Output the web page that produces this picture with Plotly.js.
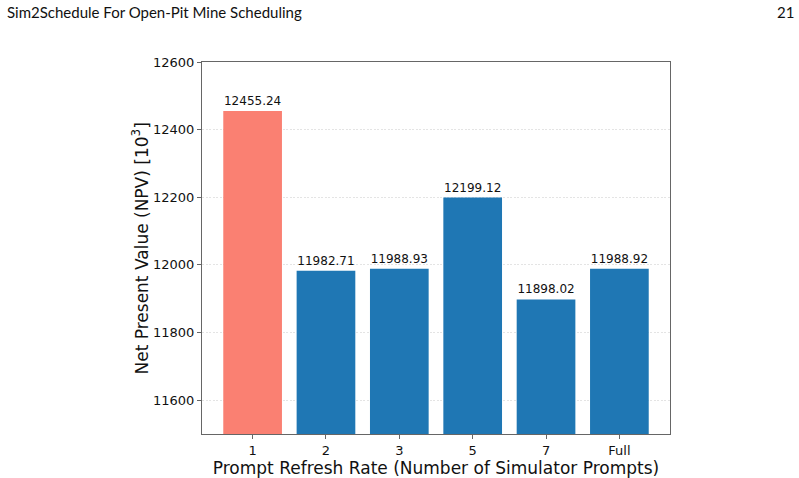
<!DOCTYPE html>
<html>
<head>
<meta charset="utf-8">
<script src="https://cdn.plot.ly/plotly-3.0.1.min.js"></script>
<style>html,body{margin:0;padding:0;background:#fff;}#chart{width:799px;height:478px;}</style>
</head>
<body>
<div id="chart"></div>
<script>
const categories = ["1", "2", "3", "5", "7", "Full"];
const npvValues = [12455.24, 11982.71, 11988.93, 12199.12, 11898.02, 11988.92];
const barColors = ["#FA8072", "#1f77b4", "#1f77b4", "#1f77b4", "#1f77b4", "#1f77b4"];
const yTicks = [11600, 11800, 12000, 12200, 12400, 12600];

const PW = 468, PH = 372;

const trace = {
  type: "bar",
  x: categories,
  y: npvValues,
  marker: {color: barColors, line: {width: 0}},
  width: 0.8,
  text: npvValues.map(v => v.toFixed(2)),
  textposition: "outside",
  cliponaxis: false,
  textfont: {family: "DejaVu Sans", size: 12, color: "#111"},
  hoverinfo: "none"
};

const layout = {
  width: 799, height: 478,
  margin: {l: 202, r: 129, t: 62, b: 44, pad: 0},
  paper_bgcolor: "#fff", plot_bgcolor: "#fff",
  showlegend: false,
  font: {family: "DejaVu Sans", color: "#111"},
  xaxis: {
    type: "category",
    range: [-0.69, 5.69],
    showline: true, mirror: true, linecolor: "#666", linewidth: 1,
    ticks: "outside", ticklen: 4, tickcolor: "#666",
    tickfont: {size: 13, family: "DejaVu Sans"},
    showgrid: false, zeroline: false,
    title: {text: "Prompt Refresh Rate (Number of Simulator Prompts)", font: {size: 17, family: "DejaVu Sans"}, standoff: 2}
  },
  yaxis: {
    range: [11500, 12600],
    tickvals: yTicks,
    ticktext: yTicks.map(String),
    showline: true, mirror: true, linecolor: "#666", linewidth: 1,
    ticks: "outside", ticklen: 4, tickcolor: "#666",
    tickfont: {size: 13, family: "DejaVu Sans"},
    showgrid: true, gridcolor: "#dddddd", griddash: "2px,1.5px", gridwidth: 0.8,
    zeroline: false
  },
  annotations: [
    {xref: "paper", yref: "paper", x: (140 - 202) / PW, y: (434 - 248.5) / PH,
     xanchor: "center", yanchor: "middle", textangle: -90,
     text: "Net Present Value (NPV) [10<sup>3</sup>]", showarrow: false,
     font: {family: "DejaVu Sans", size: 17, color: "#111"}},
    {xref: "paper", yref: "paper", x: (6 - 202) / PW, y: (434 - 12) / PH, xanchor: "left", yanchor: "middle",
     text: "Sim2Schedule For Open-Pit Mine Scheduling", showarrow: false, borderpad: 0,
     font: {family: "Lato", size: 15, color: "#111"}},
    {xref: "paper", yref: "paper", x: (795 - 202) / PW, y: (434 - 12) / PH, xanchor: "right", yanchor: "middle",
     text: "21", showarrow: false, borderpad: 0,
     font: {family: "Lato", size: 15, color: "#111"}}
  ]
};

Plotly.newPlot("chart", [trace], layout, {displayModeBar: false, staticPlot: true});
</script>
</body>
</html>
